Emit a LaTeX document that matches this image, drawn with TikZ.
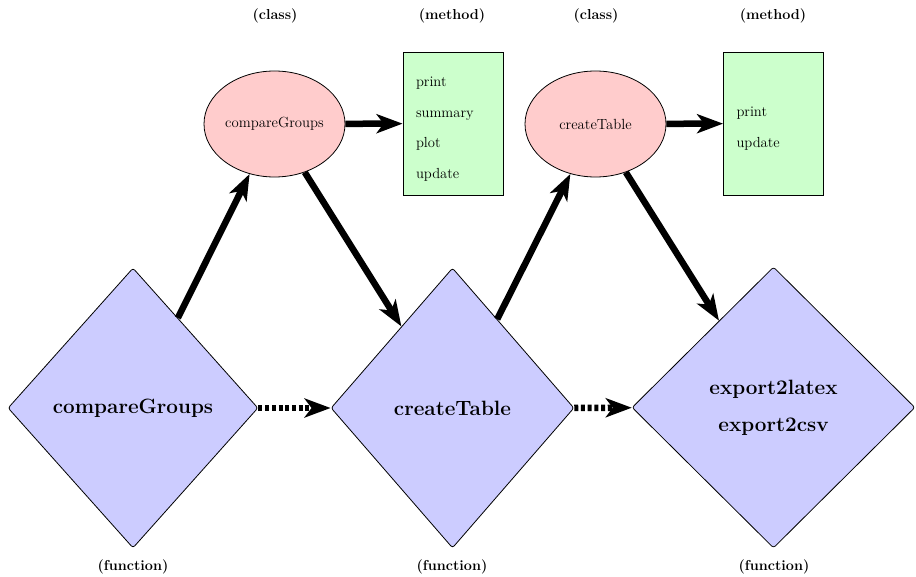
\documentclass[tikz,border=0pt]{standalone}
\usepackage{fontspec}
\usetikzlibrary{shapes.geometric,arrows.meta}
\begin{document}
\begin{tikzpicture}[x=1pt,y=-1pt,
 fun/.style={diamond, draw, line width=0.8pt, fill=blue!20, rounded corners=2.5pt,
   font=\fontsize{20.7}{37}\bfseries\selectfont, align=center, inner sep=0pt},
 cls/.style={ellipse, draw, line width=0.8pt, fill=red!20, minimum width=141pt,
   minimum height=106pt, font=\fontsize{14.7}{18}\selectfont, inner sep=0pt},
 meth/.style={rectangle, draw, line width=0.8pt, fill=green!20, minimum width=100pt,
   minimum height=143pt, text width=74pt, inner xsep=13pt, align=left,
   font=\fontsize{14.6}{30.5}\selectfont},
 lab/.style={font=\fontsize{14.4}{17}\bfseries\selectfont},
 conn/.style={line width=6.5pt, -{Stealth[length=26pt,width=19pt,inset=7pt]}},
 seq/.style={conn, dash pattern=on 4pt off 2.7pt}]
\useasboundingbox (0,0) rectangle (916,577);

\node[fun, minimum width=250pt, minimum height=280pt] (f1) at (133,408) {compareGroups};
\node[fun, minimum width=243pt, minimum height=280pt] (f2) at (452.5,408) {createTable};
\node[fun, minimum width=283pt, minimum height=281pt] (f3) at (773.5,407.5) {export2latex\\export2csv};
\node[cls] (c1) at (274.5,124) {compareGroups};
\node[cls] (c2) at (595.5,124) {createTable};
\node[meth] (m1) at (453,123.5) {\rule{0pt}{20.5pt}print\\summary\\plot\\update};
\node[meth] (m2) at (773.5,123.5) {\rule{0pt}{19.5pt}print\\update};

\node[lab] (l1) at (275,16) {(class)};
\node[lab] (l2) at (452,16) {(method)};
\node[lab] (l3) at (596,16) {(class)};
\node[lab] (l4) at (773,16) {(method)};
\node[lab] (l5) at (133,567) {(function)};
\node[lab] (l6) at (452,567) {(function)};
\node[lab] (l7) at (774,567) {(function)};

\draw[conn] (f1) -- (c1);
\draw[conn] (c1) -- (f2);
\draw[conn] (f2) -- (c2);
\draw[conn] (c2) -- (f3);
\draw[conn] (c1) -- (m1);
\draw[conn] (c2) -- (m2);
\draw[seq] (f1) -- (f2);
\draw[seq] (f2) -- (f3);
\end{tikzpicture}
\end{document}
